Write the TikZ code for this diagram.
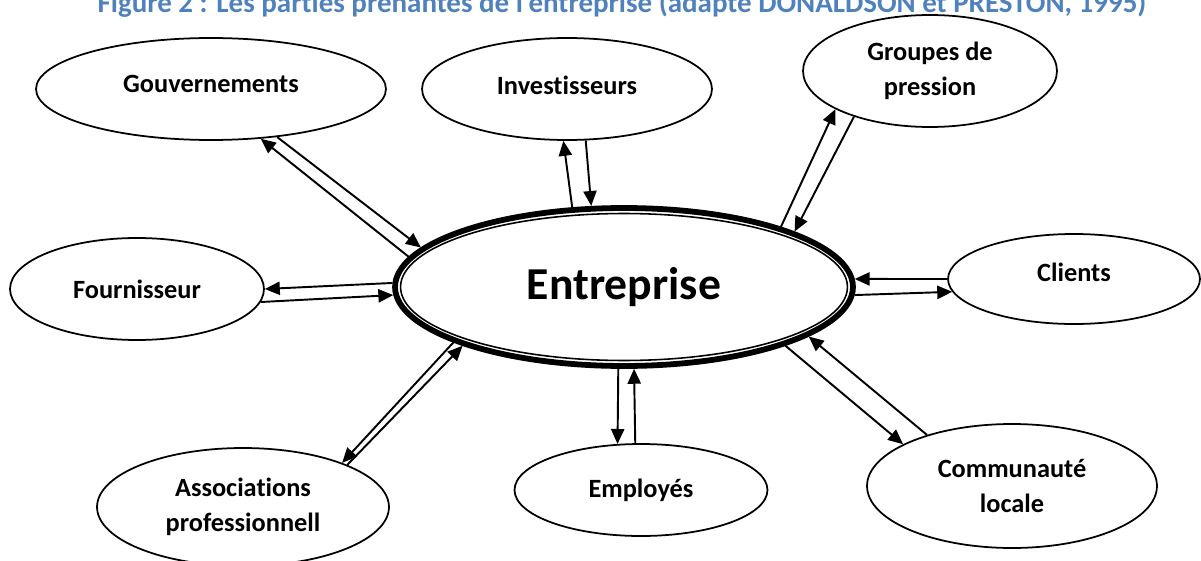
\documentclass[tikz,border=0pt]{standalone}
\usepackage{fontspec}
\setmainfont{Carlito}[Ligatures={TeX,NoCommon}]
\usetikzlibrary{shapes.geometric, arrows.meta}
\definecolor{titrebleu}{RGB}{79,129,189}

\begin{document}
\begin{tikzpicture}[x=0.02cm, y=-0.02cm, pp/.style={ellipse,draw,line width=1pt,inner sep=0pt,align=center,font=\bfseries\fontsize{15}{20}\selectfont}, fl/.style={-{Triangle[length=8.5pt,width=7.5pt]},line width=1.1pt}]
  \useasboundingbox (0,0) rectangle (1201,561);
  \clip (0,0) rectangle (1201,561);
  \node[font=\bfseries\fontsize{16.5}{20}\selectfont,text=titrebleu,anchor=base](titre) at (622,12){Figure 2 : Les parties prenantes de l'entreprise (adapté DONALDSON et PRESTON, 1995)};
  % l'entreprise au centre, trait epais + trait fin
  \node[ellipse,draw,line width=3.3pt,minimum width=9.16cm,minimum height=3.16cm,inner sep=0pt,font=\bfseries\fontsize{26}{30}\selectfont](ent) at (624,287){Entreprise};
  \draw[line width=0.9pt] (ent.center) ellipse [x radius=4.47cm, y radius=1.47cm];
  \node[pp,text depth=5.6pt,minimum width=7cm,minimum height=2.04cm](gov) at (211,89){Gouvernements};
  \node[pp,text depth=4.5pt,minimum width=5.8cm,minimum height=2.04cm](inv) at (567,89){Investisseurs};
  \node[pp,minimum width=5.08cm,minimum height=2.24cm](grp) at (930,71){Groupes de\\pression};
  \node[pp,minimum width=5.08cm,minimum height=2.04cm](four) at (137,289){Fournisseur};
  \node[pp,text depth=8pt,minimum width=5.04cm,minimum height=1.8cm](cli) at (1074,279){Clients};
  \node[pp,minimum width=5.06cm,minimum height=1.84cm](emp) at (641,490){Employés};
  \node[pp,minimum width=5.84cm,minimum height=2.36cm](asso) at (243,507){Associations\\professionnell};
  \node[pp,minimum width=5.8cm,minimum height=2.48cm](com) at (1012,486){Communauté\\locale};
  % fleches aller-retour
  \foreach \a/\b in {ent.172/gov.-45,gov.-36/ent.169,ent.123/inv.266,inv.-70/ent.112,ent.21/grp.202,grp.211/ent.18,ent.179/four.0,four.-6/ent.182,cli.180/ent.2,ent.-2/cli.186,ent.266/emp.117,emp.97/ent.-83,ent.198/asso.24,asso.22/ent.200,com.149/ent.-15,ent.-20/com.159}{\draw[fl](\a)--(\b);}
\end{tikzpicture}
\end{document}
